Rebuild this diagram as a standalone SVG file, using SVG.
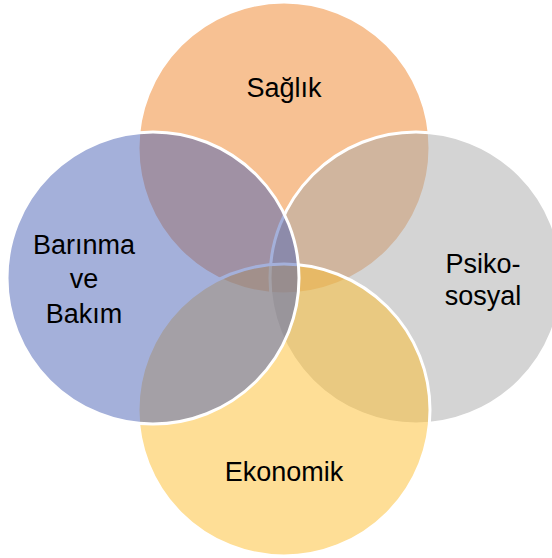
<svg xmlns="http://www.w3.org/2000/svg" width="552" height="558" viewBox="0 0 552 558">
<style>
.c{stroke:#FFFFFF;stroke-width:3;fill-opacity:0.5}
.t{font-family:"Liberation Sans",Arial,sans-serif;font-size:27px;fill:#000000;text-anchor:middle}
</style>
<rect width="552" height="558" fill="#FFFFFF"/>
<g id="saglik"><circle class="c" cx="284" cy="148" r="146" fill="#EF8327"/><text class="t" x="284" y="97">Sağlık</text></g>
<g id="psikososyal"><circle class="c" cx="416" cy="278" r="146" fill="#A9A9A9"/><text class="t" x="483" y="273">Psiko-</text><text class="t" x="483" y="305">sosyal</text></g>
<g id="ekonomik"><circle class="c" cx="284" cy="410" r="146" fill="#FDBD2D"/><text class="t" x="284" y="481">Ekonomik</text></g>
<g id="barinma"><circle class="c" cx="153" cy="278" r="146" fill="#4961B5"/><text class="t" x="84" y="254">Barınma</text><text class="t" x="84" y="288">ve</text><text class="t" x="84" y="323">Bakım</text></g>
<g id="connectors"></g>
</svg>
